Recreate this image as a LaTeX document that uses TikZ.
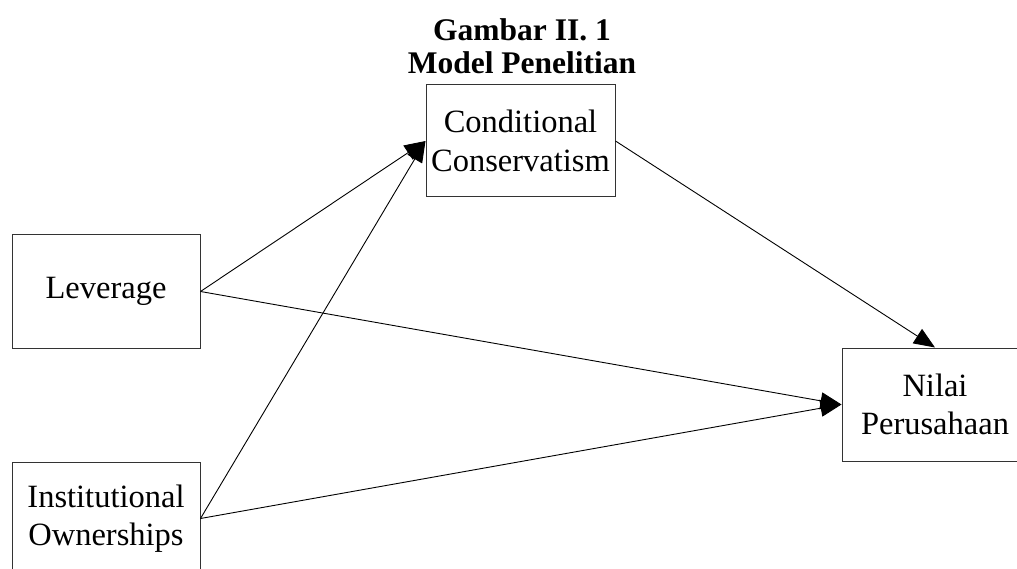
\documentclass[tikz,border=0pt]{standalone}
\usepackage{fontspec}
\setmainfont{Liberation Serif}
\usetikzlibrary{arrows.meta}
\begin{document}
\begin{tikzpicture}[x=1pt,y=-1pt,
  box/.style={draw=black!80, line width=1pt, minimum width=188pt, minimum height=113pt,
    align=center, inner sep=0pt, font=\fontsize{32.5}{38.5}\selectfont},
  conn/.style={line width=0.9pt, -{Triangle[length=21pt,width=17pt]}, shorten >=0pt},
  ttl/.style={font=\bfseries\fontsize{31.5}{33}\selectfont, align=center}]
\clip (0,0) rectangle (1017,569);
\node[ttl] (title) at (522,46) {Gambar II. 1\\Model Penelitian};
\node[box, minimum width=189pt, minimum height=112pt] (cc) at (520.5,141) {Conditional\\Conservatism};
\node[box] (lev) at (106,291.5) {Leverage};
\node[box] (io) at (106,518.5) {Institutional\\Ownerships};
\node[box, minimum width=186pt] (nv) at (935,404.5) {Nilai\\Perusahaan};
\draw[conn] (lev.east) -- (cc.west);
\draw[conn] (io.east) -- (cc.west);
\draw[conn] (lev.east) -- (nv.west);
\draw[conn] (io.east) -- (nv.west);
\draw[conn] (cc.east) -- (nv.north);
\end{tikzpicture}
\end{document}
